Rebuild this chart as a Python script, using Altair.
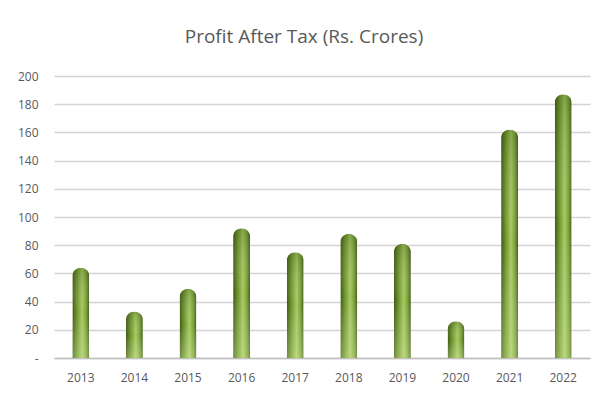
import altair as alt
import pandas as pd

years = ["2013", "2014", "2015", "2016", "2017", "2018", "2019", "2020", "2021", "2022"]
profit = [64, 33, 49, 92, 75, 88, 81, 26, 162, 187]

df = pd.DataFrame({"year": years, "profit": profit})

h_grad = alt.Gradient(
    gradient="linear",
    x1=0, x2=1, y1=0, y2=0,
    stops=[
        alt.GradientStop(offset=0, color="#3d5612"),
        alt.GradientStop(offset=0.25, color="#6a9029"),
        alt.GradientStop(offset=0.58, color="#a6c960"),
        alt.GradientStop(offset=0.82, color="#7a9f38"),
        alt.GradientStop(offset=1, color="#425c15"),
    ],
)
v_grad = alt.Gradient(
    gradient="linear",
    x1=0, x2=0, y1=0, y2=1,
    stops=[
        alt.GradientStop(offset=0, color="rgba(40,60,10,0.25)"),
        alt.GradientStop(offset=0.5, color="rgba(255,255,255,0)"),
        alt.GradientStop(offset=1, color="rgba(235,255,190,0.3)"),
    ],
)

base = alt.Chart(df).encode(
    x=alt.X("year:N", sort=years, title=None,
            axis=alt.Axis(labelAngle=0, labelPadding=14, tickSize=0,
                          domainColor="#bfbfbf", domainWidth=1.5,
                          labelColor="#595959", labelFontSize=12,
                          labelFont="Open Sans")),
    y=alt.Y("profit:Q", title=None,
            scale=alt.Scale(domain=[0, 200], nice=False),
            axis=alt.Axis(values=list(range(0, 201, 20)), tickSize=0,
                          domain=False, labelPadding=16,
                          labelExpr="datum.value == 0 ? '-' : datum.label",
                          gridColor="#d4d4d4", gridWidth=1.4,
                          labelColor="#595959", labelFontSize=12,
                          labelFont="Open Sans")),
)

bars = base.mark_bar(width=17, cornerRadiusTopLeft=8.5, cornerRadiusTopRight=8.5,
                     color=h_grad)
shade = base.mark_bar(width=17, cornerRadiusTopLeft=8.5, cornerRadiusTopRight=8.5,
                      color=v_grad)

chart = alt.layer(bars, shade).properties(
    width=536, height=282,
    autosize=alt.AutoSizeParams(type="none"),
    padding={"left": 46, "top": 68, "right": 7, "bottom": 40},
    background="white",
    title=alt.TitleParams("Profit After Tax (Rs. Crores)", fontSize=19,
                          font="Open Sans", fontWeight="normal",
                          color="#595959", offset=23, anchor="middle", dx=-18),
).configure_view(stroke=None)

chart.save("out.html", embed_options={"renderer": "svg", "actions": False})
